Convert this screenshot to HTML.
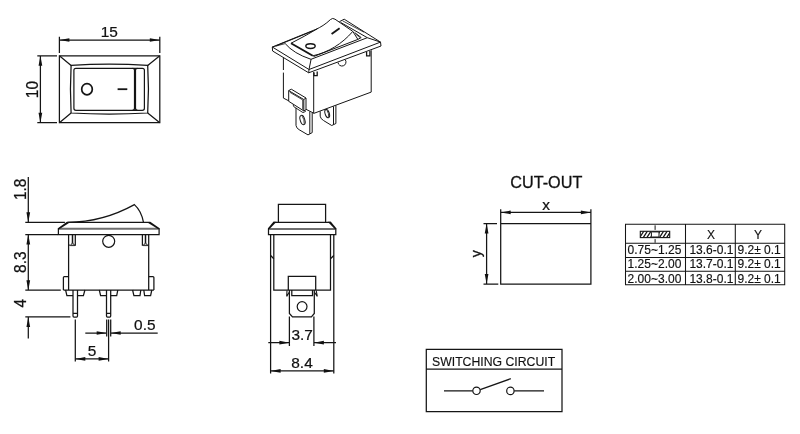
<!DOCTYPE html>
<html><head><meta charset="utf-8"><title>Rocker switch drawing</title>
<style>
html,body{margin:0;padding:0;background:#fff;}
svg{display:block;will-change:transform;}
svg path,svg ellipse,svg circle,svg rect{fill:none;stroke:#151515;stroke-linecap:butt;stroke-linejoin:miter;}
svg .f{fill:#111;stroke:none;}
svg text{font-family:"Liberation Sans",Arial,sans-serif;fill:#111;stroke:#111;}
</style></head><body>
<svg width="800" height="434" viewBox="0 0 800 434">
<g id="plan">
<path d="M59.4,55.8 H159.8 V122.7 H59.4 Z" stroke-width="1.25" />
<path d="M71.1,65.4 Q109,62.6 147.7,65.4 Q149.2,89 147.7,113 Q109,115 71.1,113 Q69.8,89 71.1,65.4 Z" stroke-width="1.25" />
<path d="M59.4,55.8 L71.1,65.4 M159.8,55.8 L147.7,65.4 M159.8,122.7 L147.7,113 M59.4,122.7 L71.1,113" stroke-width="1.25" />
<rect x="73.9" y="68.3" width="60.6" height="42" rx="2" stroke-width="1.2"/>
<rect x="135.5" y="68.3" width="8.9" height="42" rx="2" stroke-width="1.2"/>
<path d="M132.5,68.3 H137.5 M132.5,110.3 H137.5" stroke-width="1.2" />
<ellipse cx="87" cy="89.2" rx="5.3" ry="5.6" stroke-width="1.7"/>
<path d="M117.6,89.2 H127.3" stroke-width="1.8" />
<path d="M59.4,36.8 V53 M159.8,36.8 V53 M59.4,40 H159.8" stroke-width="1.25" />
<polygon class="f" points="59.40,40.00 69.40,38.15 69.40,41.85"/>
<polygon class="f" points="159.80,40.00 149.80,41.85 149.80,38.15"/>
<text transform="translate(109.3 36.8) scale(1.1 1)" font-size="14" text-anchor="middle" stroke-width="0.22" >15</text>
<path d="M37.3,55.8 H57 M37.3,122.7 H57 M40.4,55.8 V122.7" stroke-width="1.25" />
<polygon class="f" points="40.40,55.80 42.25,65.80 38.55,65.80"/>
<polygon class="f" points="40.40,122.70 38.55,112.70 42.25,112.70"/>
<text transform="translate(37.6 89.6) rotate(-90) scale(1.1 1.14)" font-size="14" text-anchor="middle" stroke-width="0.22" >10</text>
</g>
<g id="iso">
<path d="M272.3,47 L309,69.5 L380.5,42.1 L344.2,19.2 L339.4,21.7" stroke-width="1.0" />
<path d="M272.3,47 L272.6,51 L308.7,72.8 L381,46 L380.5,42.1 M309,69.5 L308.7,72.8" stroke-width="1.0" />
<path d="M342.7,20.9 L364,32.2" stroke-width="0.8" />
<path d="M272.3,47 L316,29.3 C320,27.6 326,24 330.4,19.6 Q332.6,17.5 335,19.2 L352.8,31.4" stroke-width="1.0" />
<path d="M285.2,43.6 Q293.5,53.5 311,59.3 L367.3,37.7 L340.8,22.5" stroke-width="1.0" />
<path d="M272.3,47 L285.2,43.6" stroke-width="0.8" />
<path d="M276,45.9 L312,31.3" stroke-width="1.0" />
<path d="M311.1,59.2 L309,69.5 M367.3,37.7 L380.5,42.1" stroke-width="1.0" />
<path d="M291,43.3 L312.8,55.8" stroke-width="1.9" />
<path d="M291.1,43.2 Q304,36.7 317.5,28.7" stroke-width="1.0" />
<path d="M312.8,55.8 C328,52.5 342,44 352.8,31.4" stroke-width="1.0" />
<path d="M313.5,56.6 L357.9,39.4 L361.2,37.6 L354.6,32.5 M352.8,31.4 L357.9,39.4" stroke-width="1.0" />
<path d="M355.5,34 L360,37.6" stroke-width="0.7" />
<path d="M331.6,34 L339.6,28.3" stroke-width="1.9" />
<ellipse cx="310.5" cy="46.1" rx="4.7" ry="2.4" stroke-width="1.4"/>
<path d="M283.4,57.8 V70 M283.4,72.6 V98.1 L288.7,100.8 M306,109.3 L314,113.3 L371.2,92.1 V50.2 M313.7,72 V113.3" stroke-width="1.0" />
<path d="M314,72.4 V75.6 H317.2 V71.4" stroke-width="1.3" />
<path d="M366.6,52 V55.8 H369.9 V51" stroke-width="1.3" />
<path d="M338,62.4 A4,4 0 1 0 345.3,59.8" stroke-width="1.0" />
<path d="M288.7,90.6 L303.8,99.5 V110.9 L288.7,101.3 Z M288.7,90.6 L291.3,89.2 L306,98 L303.8,99.5 M306,98 V109.8 L303.8,110.9" stroke-width="1.0" />
<path d="M289.9,92.3 L302.7,99.9 V109.6" stroke-width="0.8" />
<path d="M293.1,104.6 L293.8,106.7 L303,112.6 L305.8,111.3" stroke-width="0.9" />
<path d="M296,107.8 V125.4 Q296.2,128 299.1,129.7 L308,134.9 L312.2,132.6 V112.7 M309.8,111.5 V133.8" stroke-width="1.0" />
<ellipse cx="302.5" cy="120" rx="2.3" ry="4.8" stroke-width="1" transform="rotate(-17 302.5 120)"/>
<path d="M302.2,116.2 Q304.6,119.5 304.2,123.8" stroke-width="0.8" />
<path d="M320.2,111.3 V116.2 Q320.5,118.8 323.5,120.5 L331.7,125.5 L335.9,123.5 V105.4 M333.5,106.4 V124.5" stroke-width="1.0" />
<ellipse cx="327.2" cy="113.6" rx="2.1" ry="4.3" stroke-width="1" transform="rotate(-17 327.2 113.6)"/>
<path d="M326.9,110.3 Q329,113.3 328.7,117" stroke-width="0.8" />
</g>
<g id="front">
<path d="M59,228.7 H158.5" stroke-width="2" style="stroke:#6e6e6e"/>
<path d="M66.8,222.4 H150.4 M159.1,228.6 V234.5 H58.4 V228.6" stroke-width="1.25" />
<polygon class="f" points="66.6,221.9 70.6,221.9 59.2,229.2 57.9,229.2 57.9,228.2"/>
<polygon class="f" points="150.6,221.9 146.6,221.9 158.3,229.2 159.6,229.2 159.6,228.2"/>
<path d="M67.7,222.4 Q103,222 134.4,204.6 Q141.5,211 143.5,222.4" stroke-width="1.25" />
<path d="M68.6,234.4 V290 M148.7,234.4 V290 M63.4,290 H153.9" stroke-width="1.25" />
<path d="M72.5,234.4 V243.2" stroke-width="1.5" />
<path d="M75.3,234.4 V245.2 H74.2 M68.6,245.2 H69.8" stroke-width="1.25" />
<path d="M70.2,245.6 L72.5,242.8 L74.8,245.6 Z" stroke-width="0.9" style="fill:#bbb"/>
<path d="M145.5,234.4 V243.2" stroke-width="1.5" />
<path d="M142.4,234.4 V245.2 H143.5 M148.7,245.2 H147.5" stroke-width="1.25" />
<path d="M143.2,245.6 L145.5,242.8 L147.8,245.6 Z" stroke-width="0.9" style="fill:#bbb"/>
<circle cx="108.7" cy="241.3" r="6" stroke-width="1.2"/>
<path d="M68.5,276.5 H64.4 Q63.4,276.5 63.4,277.5 V290 M148.7,276.5 H152.9 Q153.9,276.5 153.9,277.5 V290" stroke-width="1.25" />
<path d="M65.6,290 L66.9,295.6 H73 M77.5,295.6 H83.4 L84.9,290" stroke-width="1.25" />
<path d="M99.3,290 L100.6,295.6 H106.5 M110.7,295.6 H116.7 L117.8,290" stroke-width="1.25" />
<path d="M132.6,290 L133.9,295.7 H140 L140.8,290 M143.8,290 L144.6,295.7 H150.6 L151.8,290" stroke-width="1.25" />
<path d="M73,290 V316 Q73,317 74,317 H76.5 Q77.5,317 77.5,316 V290 M73,313.4 H77.5" stroke-width="1.25" />
<path d="M106.5,290 V316 Q106.5,317 107.5,317 H109.7 Q110.7,317 110.7,316 V290 M106.5,313.4 H110.7" stroke-width="1.25" />
<path d="M25.3,222.4 H64.9 M28.3,176.9 V222" stroke-width="1.25" />
<polygon class="f" points="28.30,222.30 26.45,212.30 30.15,212.30"/>
<text transform="translate(25.6 189.4) rotate(-90) scale(1.1 1.14)" font-size="14" text-anchor="middle" stroke-width="0.22" >1.8</text>
<path d="M25.3,234.5 H58 M25.3,290.2 H60.8 M28.3,234.5 V290.2" stroke-width="1.25" />
<polygon class="f" points="28.30,234.50 30.15,244.50 26.45,244.50"/>
<polygon class="f" points="28.30,290.20 26.45,280.20 30.15,280.20"/>
<text transform="translate(25.6 262.2) rotate(-90) scale(1.1 1.14)" font-size="14" text-anchor="middle" stroke-width="0.22" >8.3</text>
<path d="M25.3,316.9 H70.4 M28.3,317 V338.5" stroke-width="1.25" />
<polygon class="f" points="28.30,316.90 30.15,326.90 26.45,326.90"/>
<text transform="translate(25.6 303.3) rotate(-90) scale(1.1 1.14)" font-size="14" text-anchor="middle" stroke-width="0.22" >4</text>
<path d="M75.3,319.4 V361.4 M108.6,319.4 V361.4 M106.7,319.4 V336.4 M110.7,319.4 V336.4" stroke-width="1.25" />
<path d="M85.3,333 H106 M111,333 H157.7 M75.3,358.9 H108.6" stroke-width="1.25" />
<polygon class="f" points="106.70,333.00 96.70,334.85 96.70,331.15"/>
<polygon class="f" points="110.70,333.00 120.70,331.15 120.70,334.85"/>
<polygon class="f" points="75.30,358.90 85.30,357.05 85.30,360.75"/>
<polygon class="f" points="108.60,358.90 98.60,360.75 98.60,357.05"/>
<text transform="translate(92 355.6) scale(1.1 1)" font-size="14" text-anchor="middle" stroke-width="0.22" >5</text>
<text transform="translate(144.8 330.3) scale(1.1 1)" font-size="14" text-anchor="middle" stroke-width="0.22" >0.5</text>
</g>
<g id="end">
<path d="M278.4,222.2 V204.4 H325.6 V222.2" stroke-width="1.25" />
<path d="M269.2,229 H335.1" stroke-width="2" style="stroke:#6e6e6e"/>
<path d="M273.5,222.25 H330.9 M335.8,228.6 V234.5 H268.5 V228.6" stroke-width="1.25" />
<polygon class="f" points="273.4,221.7 276.6,221.7 269.3,229.2 268,229.2 268,228.2"/>
<polygon class="f" points="330.9,221.7 327.7,221.7 335,229.2 336.3,229.2 336.3,228.2"/>
<path d="M270.6,234.7 V373.4 M333.8,234.7 V373.4" stroke-width="1.25" />
<path d="M273.8,234.7 V290.1 H330.5 V234.7" stroke-width="1.25" />
<path d="M270.6,255.5 L273.8,258.8 M333.8,255.5 L330.5,258.8" stroke-width="1.25" />
<path d="M288.3,290.1 V276.3 H315.7 V290.1" stroke-width="1.25" />
<path d="M289.4,290.1 V313.5 L292.5,316.9 H311.4 L314.3,313.5 V290.1" stroke-width="1.25" />
<path d="M291.8,290.1 V295.6 H312.5 V290.1" stroke-width="1.25" />
<path d="M287,290.5 L286.7,296.4 L289.4,292 M316.2,290.5 L317.3,296.4 L314.3,292" stroke-width="1.1" />
<circle cx="302.1" cy="306.6" r="4.9" stroke-width="1.2"/>
<path d="M289.4,316.6 V346 M313.9,316.6 V346 M268.3,342.7 H289 M314.2,342.7 H336" stroke-width="1.25" />
<polygon class="f" points="289.40,342.70 279.40,344.55 279.40,340.85"/>
<polygon class="f" points="313.90,342.70 323.90,340.85 323.90,344.55"/>
<text transform="translate(302.2 340) scale(1.1 1)" font-size="14" text-anchor="middle" stroke-width="0.22" >3.7</text>
<path d="M270.6,370.9 H333.8" stroke-width="1.25" />
<polygon class="f" points="270.60,370.90 280.60,369.05 280.60,372.75"/>
<polygon class="f" points="333.80,370.90 323.80,372.75 323.80,369.05"/>
<text transform="translate(302 367.9) scale(1.1 1)" font-size="14" text-anchor="middle" stroke-width="0.22" >8.4</text>
</g>
<g id="cut">
<text transform="translate(546.3 187.9)" font-size="16.2" text-anchor="middle" stroke-width="0.3" >CUT-OUT</text>
<path d="M500.7,223.5 H590.9 V284 H500.7 Z M500.7,209.2 V223.5 M590.9,209.2 V223.5 M500.7,212.4 H590.9" stroke-width="1.25" />
<polygon class="f" points="500.70,212.40 510.70,210.55 510.70,214.25"/>
<polygon class="f" points="590.90,212.40 580.90,214.25 580.90,210.55"/>
<text transform="translate(546.2 209.6) scale(1.1 1)" font-size="14" text-anchor="middle" stroke-width="0.22" >x</text>
<path d="M483.5,223.5 H497 M483.5,284 H498.3 M486.6,223.5 V284" stroke-width="1.25" />
<polygon class="f" points="486.60,223.50 488.45,233.50 484.75,233.50"/>
<polygon class="f" points="486.60,284.00 484.75,274.00 488.45,274.00"/>
<text transform="translate(481.4 253.8) rotate(-90) scale(1.0 1.04)" font-size="14" text-anchor="middle" stroke-width="0.22" >y</text>
</g>
<g id="table">
<path d="M625.5,224.3 H784.7 V284.7 H625.5 Z M625.5,243.2 H784.7 M625.5,257.4 H784.7 M625.5,271.3 H784.7 M685.5,224.3 V284.7 M735.3,224.3 V284.7" stroke-width="1.05" />
<defs><clipPath id="cl"><rect x="640.3" y="231.3" width="11.3" height="6.3"/></clipPath><clipPath id="cr"><rect x="658.7" y="231.3" width="11" height="6.3"/></clipPath></defs>
<g clip-path="url(#cl)"><path d="M635.70,238.2 L640.50,230.7 M639.30,238.2 L644.10,230.7 M642.90,238.2 L647.70,230.7 M646.50,238.2 L651.30,230.7 M650.10,238.2 L654.90,230.7" stroke-width="1.25"/></g>
<g clip-path="url(#cr)"><path d="M655.50,238.2 L660.30,230.7 M659.10,238.2 L663.90,230.7 M662.70,238.2 L667.50,230.7 M666.30,238.2 L671.10,230.7 M669.90,238.2 L674.70,230.7" stroke-width="1.25"/></g>
<rect x="640.3" y="231.3" width="29.4" height="6.3" stroke-width="1.1"/>
<rect x="651.4" y="231.9" width="7.6" height="5.1" rx="1" stroke-width="1" style="fill:#fff"/>
<path d="M655.1,225.3 V229.9 M655.1,239.1 V242.8" stroke-width="1" />
<text transform="translate(711 239)" font-size="12" text-anchor="middle" stroke-width="0.15" >X</text>
<text transform="translate(758 239)" font-size="12" text-anchor="middle" stroke-width="0.15" >Y</text>
<text transform="translate(627.6 254.1)" font-size="12" text-anchor="start" stroke-width="0.15" >0.75~1.25</text>
<text transform="translate(689.4 254.1)" font-size="12" text-anchor="start" stroke-width="0.15" >13.6-0.1</text>
<text transform="translate(737.5 254.1)" font-size="12" text-anchor="start" stroke-width="0.15" >9.2± 0.1</text>
<text transform="translate(627.6 268.4)" font-size="12" text-anchor="start" stroke-width="0.15" >1.25~2.00</text>
<text transform="translate(689.4 268.4)" font-size="12" text-anchor="start" stroke-width="0.15" >13.7-0.1</text>
<text transform="translate(737.5 268.4)" font-size="12" text-anchor="start" stroke-width="0.15" >9.2± 0.1</text>
<text transform="translate(627.6 283.2)" font-size="12" text-anchor="start" stroke-width="0.15" >2.00~3.00</text>
<text transform="translate(689.4 283.2)" font-size="12" text-anchor="start" stroke-width="0.15" >13.8-0.1</text>
<text transform="translate(737.5 283.2)" font-size="12" text-anchor="start" stroke-width="0.15" >9.2± 0.1</text>
</g>
<g id="sw">
<path d="M426.3,349.3 H562 V411.5 H426.3 Z M426.3,369.2 H562" stroke-width="1.25" />
<text transform="translate(432.0 365.6)" font-size="12.25" text-anchor="start" stroke-width="0.15" >SWITCHING CIRCUIT</text>
<path d="M444,390.8 H472.7 M514.2,390.8 H544 M480.2,389.6 L510.8,378.7" stroke-width="1.25" />
<circle cx="476.5" cy="390.8" r="3.7" stroke-width="1.2"/><circle cx="510.4" cy="390.9" r="3.7" stroke-width="1.2"/>
</g>
</svg>
</body></html>
